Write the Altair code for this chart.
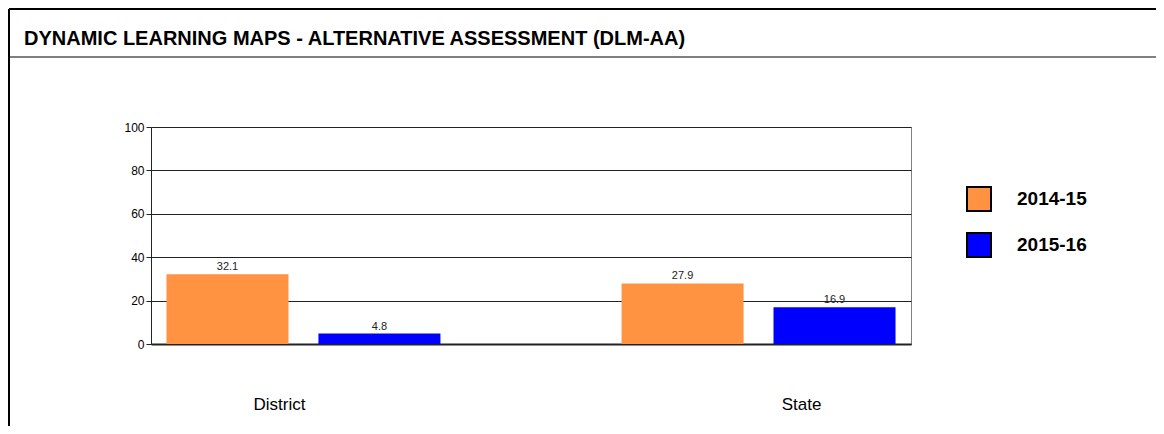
import altair as alt
import pandas as pd

categories = ["District", "District", "State", "State"]
years = ["2014-15", "2015-16", "2014-15", "2015-16"]
values = [32.1, 4.8, 27.9, 16.9]
y_ticks = [0, 20, 40, 60, 80, 100]
series_order = ["2014-15", "2015-16"]
series_colors = ["#FF9341", "#0000FF"]
title_text = "DYNAMIC LEARNING MAPS - ALTERNATIVE ASSESSMENT (DLM-AA)"

df = pd.DataFrame({"cat": categories, "year": years, "value": values})

FONT = "Liberation Sans"

base = alt.Chart(df)

bars = base.mark_bar().encode(
    x=alt.X(
        "cat:N",
        title=None,
        scale=alt.Scale(paddingInner=0.398, paddingOuter=0.034),
        axis=alt.Axis(
            labelAngle=0,
            ticks=False,
            domain=True,
            domainColor="#222222",
            domainWidth=2,
            labelFont=FONT,
            labelFontSize=17,
            labelColor="#000000",
            labelPadding=52,
            labelOffset={"condition": {"test": "datum.value === 'District'", "value": -24}, "value": 43},
        ),
    ),
    xOffset=alt.XOffset("year:N", sort=series_order, scale=alt.Scale(paddingInner=0.197, paddingOuter=0)),
    y=alt.Y(
        "value:Q",
        title=None,
        scale=alt.Scale(domain=[0, 100], nice=False),
        axis=alt.Axis(
            values=y_ticks,
            grid=True,
            gridColor="#222222",
            gridWidth=1,
            tickSize=5,
            tickColor="#222222",
            domainColor="#222222",
            labelFont=FONT,
            labelFontSize=12,
            labelColor="#000000",
            labelPadding=2,
        ),
    ),
    color=alt.Color(
        "year:N",
        sort=series_order,
        scale=alt.Scale(domain=series_order, range=series_colors),
        legend=alt.Legend(
            title=None,
            orient="none",
            legendX=815,
            legendY=59,
            symbolType="square",
            symbolSize=576,
            symbolStrokeColor="#000000",
            symbolStrokeWidth=2,
            symbolOpacity=1,
            labelFont=FONT,
            labelFontSize=19,
            labelFontWeight="bold",
            labelColor="#000000",
            labelOffset=25,
            rowPadding=14,
            padding=0,
        ),
    ),
)

labels = base.mark_text(baseline="bottom", dy=-2, font=FONT, fontSize=11, color="#222222").encode(
    x=alt.X("cat:N"),
    xOffset=alt.XOffset("year:N", sort=series_order),
    y=alt.Y("value:Q"),
    text=alt.Text("value:Q", format=".1f"),
)

# decorative frame: outer border and line under the title
frame_df = pd.DataFrame({"k": [0]})
frame = alt.Chart(frame_df)
left_border = frame.mark_rule(color="#000000", strokeWidth=2, clip=False).encode(
    x=alt.value(-142), y=alt.value(-118), y2=alt.value(300)
)
top_border = frame.mark_rule(color="#000000", strokeWidth=2, clip=False).encode(
    x=alt.value(-142), x2=alt.value(1010), y=alt.value(-118)
)
title_line = frame.mark_rule(color="#000000", strokeWidth=1, clip=False).encode(
    x=alt.value(-142), x2=alt.value(1010), y=alt.value(-70)
)
title_mark = frame.mark_text(
    align="left", baseline="middle", font=FONT, fontSize=20, fontWeight="bold", color="#000000", clip=False
).encode(x=alt.value(-127), y=alt.value(-88), text=alt.value(title_text))

chart = (
    alt.layer(bars, labels, left_border, top_border, title_line, title_mark)
    .properties(
        width=760,
        height=217,
        autosize=alt.AutoSizeParams(type="none"),
        padding={"left": 143, "top": 119, "right": 245, "bottom": 82},
        background="#ffffff",
    )
    .configure_view(stroke="#808080", strokeWidth=1)
)

chart.save("out.html", embed_options={"renderer": "svg", "actions": False})
